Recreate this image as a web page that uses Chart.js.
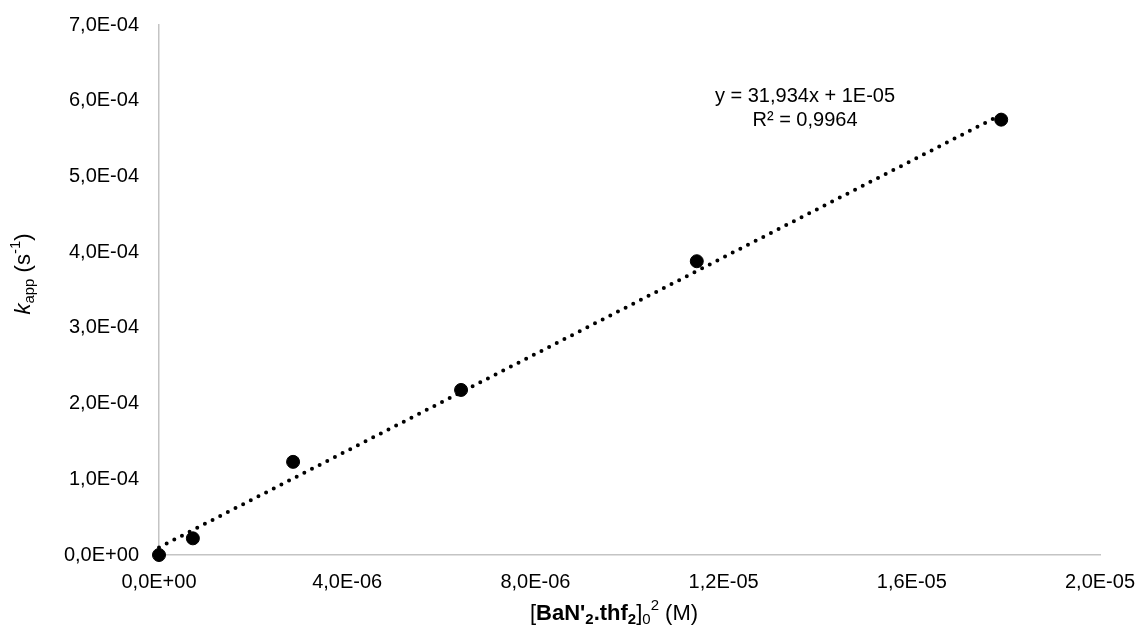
<!DOCTYPE html>
<html>
<head>
<meta charset="utf-8">
<script src="https://cdn.jsdelivr.net/npm/chart.js@4.4.1/dist/chart.umd.min.js"></script>
<style>
    html, body { margin: 0; padding: 0; background: #fff; }
    #wrap { width: 1140px; height: 637px; }
</style>
</head>
<body>
<div id="wrap"><canvas id="myChart" width="1140" height="637"></canvas></div>
<script>
// measured points (x = [BaN'2.thf2]0^2, y = kapp)
const concSq = [0, 7.2e-7, 2.85e-6, 6.42e-6, 1.143e-5, 1.79e-5];
const kApp = [0, 2.2e-5, 1.23e-4, 2.18e-4, 3.88e-4, 5.75e-4];
// linear trendline from excel
const slope = 31.934;
const intercept = 1e-5;
const eqLabels = ['y = 31,934x + 1E-05', 'R² = 0,9964'];

const FONT = '"Liberation Sans", Arial, sans-serif';
const FS = 20;
const TS = 22; // axis titles are a bit bigger

// 7e-4 -> "7,0E-04"
function sci(v) {
    if (Math.abs(v) < 1e-12) return '0,0E+00';
    let parts = v.toExponential(1).split('e');
    let e = parseInt(parts[1]);
    let ex = (e < 0 ? '-' : '+') + String(Math.abs(e)).padStart(2, '0');
    return parts[0].replace('.', ',') + 'E' + ex;
}

let xmin = concSq[0], xmax = concSq[concSq.length - 1];
const trend = [
    {x: xmin, y: slope * xmin + intercept},
    {x: xmax, y: slope * xmax + intercept}
];

// draws a list of text runs (bold/italic/sub/sup) centred on cx,cy
function richText(ctx, runs, cx, cy, rot) {
    ctx.save();
    ctx.translate(cx, cy);
    if (rot) ctx.rotate(rot);
    ctx.textBaseline = 'middle';
    ctx.textAlign = 'left';
    ctx.fillStyle = '#000';
    let fontOf = (r) => {
        let size = r.sub || r.sup ? Math.round(TS * 0.68) : TS;
        return (r.italic ? 'italic ' : '') + (r.bold ? 'bold ' : '') + size + 'px ' + FONT;
    };
    let total = 0;
    runs.forEach(r => { ctx.font = fontOf(r); total += ctx.measureText(r.t).width; });
    let x = -total / 2;
    runs.forEach(r => {
        ctx.font = fontOf(r);
        let dy = r.sub ? 6 : (r.sup ? -8 : 0);
        ctx.fillText(r.t, x, dy);
        x += ctx.measureText(r.t).width;
    });
    ctx.restore();
}

const xTitle = [
    {t: '['}, {t: "BaN'", bold: true}, {t: '2', bold: true, sub: true},
    {t: '.thf', bold: true}, {t: '2', bold: true, sub: true}, {t: ']'},
    {t: '0', sub: true}, {t: '2', sup: true}, {t: ' (M)'}
];
const yTitle = [
    {t: 'k', italic: true}, {t: 'app', sub: true}, {t: ' (s'}, {t: '-1', sup: true}, {t: ')'}
];

const titlesPlugin = {
    id: 'titles',
    afterDraw(chart) {
        let ctx = chart.ctx;
        richText(ctx, xTitle, 614, 614, 0);
        richText(ctx, yTitle, 24, 274, -Math.PI / 2);
        // equation box
        ctx.save();
        ctx.font = FS + 'px ' + FONT;
        ctx.fillStyle = '#000';
        ctx.textAlign = 'center';
        ctx.textBaseline = 'middle';
        ctx.fillText(eqLabels[0], 805, 96);
        ctx.fillText(eqLabels[1], 805, 120);
        ctx.restore();
    }
};

const ctx = document.getElementById('myChart').getContext('2d');
const config = {
    type: 'scatter',
    data: {
        datasets: [{
            label: 'trend',
            type: 'line',
            data: trend,
            borderColor: '#000',
            borderWidth: 4,
            borderDash: [0, 8.6],
            borderCapStyle: 'round',
            pointRadius: 0,
            fill: false,
            clip: false
        }, {
            label: 'kapp',
            data: concSq.map((v, i) => ({x: v, y: kApp[i]})),
            backgroundColor: '#000',
            borderColor: '#000',
            pointRadius: 6.5,
            pointHoverRadius: 6.5,
            clip: false
        }]
    },
    options: {
        responsive: false,
        animation: false,
        layout: { padding: { top: 25, right: 40, left: 0, bottom: 0 } },
        plugins: { legend: { display: false }, tooltip: { enabled: false } },
        scales: {
            x: {
                type: 'linear',
                min: 0,
                max: 2e-5,
                grid: { display: false, drawTicks: false },
                border: { display: true, color: '#c4c4c4', width: 1.5 },
                ticks: {
                    stepSize: 4e-6,
                    padding: 15,
                    color: '#000',
                    font: { family: FONT, size: FS },
                    maxRotation: 0,
                    callback: (v) => sci(v)
                },
                afterFit: (s) => {
                    s.height = 82;
                    // let the end labels hang over, like excel
                    s.paddingLeft = 0;
                    s.paddingRight = 0;
                }
            },
            y: {
                type: 'linear',
                min: 0,
                max: 7e-4,
                grid: { display: false, drawTicks: false },
                border: { display: true, color: '#c4c4c4', width: 1.5 },
                ticks: {
                    stepSize: 1e-4,
                    padding: 20,
                    color: '#000',
                    font: { family: FONT, size: FS },
                    callback: (v) => sci(v)
                },
                afterFit: (s) => {
                    s.width = 159;
                    s.paddingTop = 0;
                    s.paddingBottom = 0;
                }
            }
        }
    },
    plugins: [titlesPlugin]
};
let myChart = new Chart(ctx, config);
</script>
</body>
</html>
